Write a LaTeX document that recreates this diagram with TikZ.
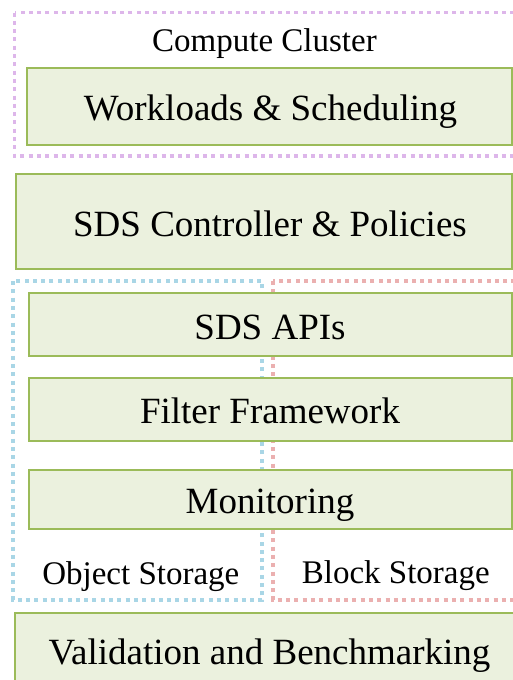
\documentclass[tikz,border=0pt]{standalone}
\usepackage{fontspec}
\setmainfont{Liberation Serif}
\definecolor{layerfill}{HTML}{EBF1DE}
\definecolor{layerline}{HTML}{9BBB59}
\definecolor{computeline}{HTML}{DDB6EA}
\definecolor{objectline}{HTML}{A9D6E6}
\definecolor{blockline}{HTML}{EBB0B0}
\tikzset{
  layer/.style={draw=layerline, fill=layerfill, line width=1.6pt, inner sep=0pt},
  zone/.style={line width=3.6pt, dash pattern=on 4pt off 4.3pt},
  bigtext/.style={anchor=base, inner sep=0pt, font=\fontsize{37}{44}\selectfont},
  smalltext/.style={anchor=base, inner sep=0pt, font=\fontsize{33}{40}\selectfont},
}
\begin{document}
\begin{tikzpicture}[x=1pt,y=-1pt]
\useasboundingbox (0,0) rectangle (513,680);
\clip (0,0) rectangle (513,680);
\fill[white] (0,0) rectangle (513,680);

% storage and compute zones
\draw[zone, draw=computeline] (14.5,12.5) rectangle (540,156);
\draw[zone, draw=objectline] (13,281) rectangle (262,600);
\draw[zone, draw=blockline] (273,281) rectangle (540,600);

% layers
\node[layer, minimum width=485pt, minimum height=77pt] (work) at (269.5,106.5) {};
\node[layer, minimum width=496pt, minimum height=95pt] (ctrl) at (264,221.5) {};
\node[layer, minimum width=483pt, minimum height=63pt] (apis) at (270.5,324.5) {};
\node[layer, minimum width=483pt, minimum height=63pt] (filt) at (270.5,409.5) {};
\node[layer, minimum width=483pt, minimum height=59pt] (moni) at (270.5,499.5) {};
\node[layer, minimum width=520pt, minimum height=90pt] (vali) at (275,658) {};

% texts
\node[smalltext] (computelbl) at (264.5,51.7) {Compute Cluster};
\node[bigtext] (worktxt) at (270.5,120) {Workloads \& Scheduling};
\node[bigtext] (ctrltxt) at (270,236) {SDS Controller \& Policies};
\node[bigtext] (apistxt) at (270,339.3) {SDS APIs};
\node[bigtext] (filttxt) at (270,423.3) {Filter Framework};
\node[bigtext] (monitxt) at (270,513.3) {Monitoring};
\node[smalltext] (objlbl) at (140.8,584) {Object Storage};
\node[smalltext] (blklbl) at (395.8,583.5) {Block Storage};
\node[bigtext] (valitxt) at (269.5,664) {Validation and Benchmarking};
\end{tikzpicture}
\end{document}
